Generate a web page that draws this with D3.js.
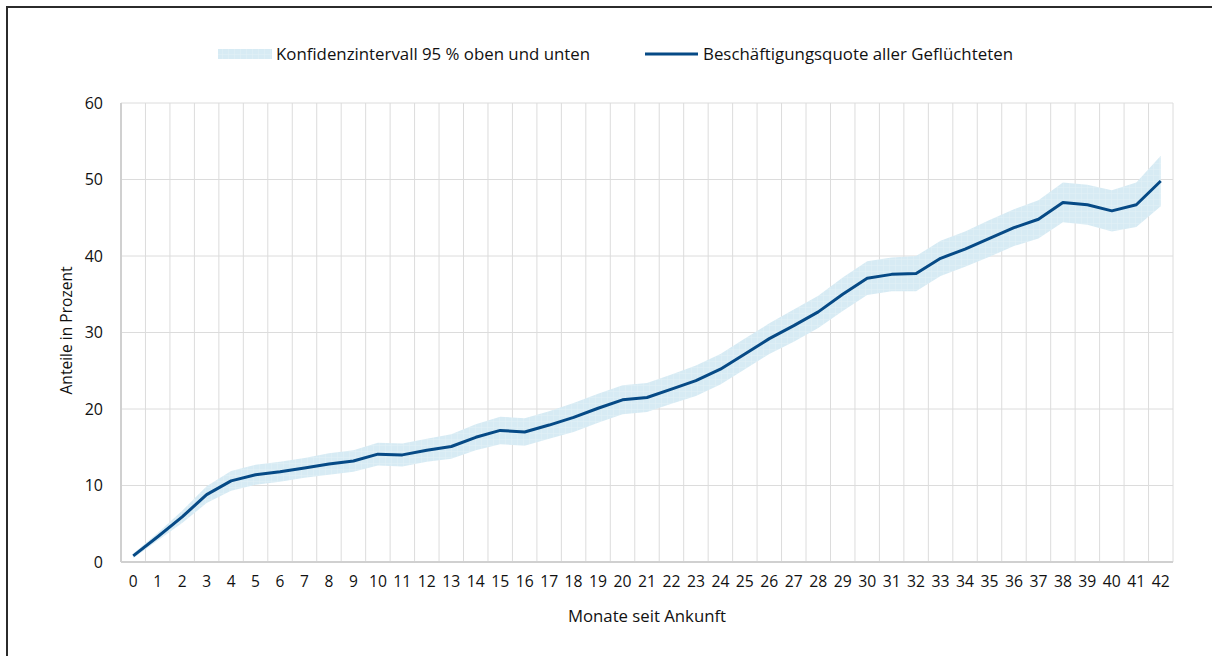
<!DOCTYPE html>
<html>
<head>
<meta charset="utf-8">
<script src="https://cdn.jsdelivr.net/npm/d3@7"></script>
<style>
  body { margin: 0; background: #fff; }
  svg { display: block; font-family: "Open Sans", sans-serif; }
</style>
</head>
<body>
<svg id="chart" width="1212" height="656"></svg>
<script>
// months since arrival
var months = d3.range(0, 43);
// employment rate of all refugees (%)
var quote = [0.8, 3.3, 5.9, 8.8, 10.6, 11.4, 11.8, 12.3, 12.8, 13.2, 14.1, 14.0, 14.6, 15.1, 16.3,
  17.2, 17.0, 17.9, 18.9, 20.1, 21.2, 21.5, 22.6, 23.7, 25.2, 27.2, 29.2, 30.9, 32.7, 35.0,
  37.1, 37.6, 37.7, 39.7, 40.9, 42.3, 43.7, 44.8, 47.0, 46.7, 45.9, 46.7, 49.8];
// 95 % confidence interval
var lower = [0.5, 2.8, 5.1, 7.7, 9.3, 10.1, 10.5, 11.0, 11.4, 11.8, 12.6, 12.5, 13.1, 13.5, 14.6,
  15.4, 15.2, 16.1, 17.0, 18.2, 19.3, 19.6, 20.7, 21.7, 23.2, 25.2, 27.2, 28.8, 30.6, 32.8,
  34.9, 35.4, 35.4, 37.4, 38.6, 39.9, 41.3, 42.3, 44.4, 44.1, 43.2, 43.8, 46.5];
var upper = [1.1, 3.8, 6.7, 9.9, 11.9, 12.7, 13.1, 13.6, 14.2, 14.6, 15.6, 15.5, 16.1, 16.7, 18.0,
  19.0, 18.8, 19.7, 20.8, 22.0, 23.1, 23.4, 24.5, 25.7, 27.2, 29.2, 31.2, 33.0, 34.8, 37.2,
  39.3, 39.8, 40.0, 42.0, 43.2, 44.7, 46.1, 47.3, 49.6, 49.3, 48.6, 49.6, 53.1];
var yTicks = [0, 10, 20, 30, 40, 50, 60];

var svg = d3.select("#chart");
var margin = { top: 103, right: 39, bottom: 94, left: 121 };
var width = 1212 - margin.left - margin.right;
var height = 656 - margin.top - margin.bottom;

// outer frame (top and left only)
svg.append("path")
  .attr("d", "M7,656 V7 H1212")
  .attr("fill", "none")
  .attr("stroke", "#2b2b2b")
  .attr("stroke-width", 2);

var defs = svg.append("defs");
var pat = defs.append("pattern")
  .attr("id", "ci")
  .attr("patternUnits", "userSpaceOnUse")
  .attr("width", 6).attr("height", 6);
pat.append("rect").attr("width", 6).attr("height", 6).attr("fill", "#d7ebf4");
pat.append("path").attr("d", "M0,0 H6 M0,0 V6").attr("stroke", "#e3f1f7").attr("stroke-width", 1);

var g = svg.append("g")
  .attr("transform", "translate(" + margin.left + "," + margin.top + ")");

var x = d3.scaleBand().domain(months).range([0, width]);
var y = d3.scaleLinear().domain([0, 60]).range([height, 0]);

// grid
g.append("g").selectAll("line")
  .data(months.slice(1).concat([43]))
  .join("line")
  .attr("x1", function(d) { return d < 43 ? x(d) : width; })
  .attr("x2", function(d) { return d < 43 ? x(d) : width; })
  .attr("y1", 0).attr("y2", height)
  .attr("stroke", "#dcdcdc").attr("stroke-width", 1);

g.append("g").selectAll("line")
  .data(yTicks.slice(1))
  .join("line")
  .attr("x1", 0).attr("x2", width)
  .attr("y1", function(d) { return y(d); })
  .attr("y2", function(d) { return y(d); })
  .attr("stroke", "#dcdcdc").attr("stroke-width", 1);

var cx = function(d, i) { return x(months[i]) + x.bandwidth() / 2; };

// confidence band
var area = d3.area()
  .x(cx)
  .y0(function(d, i) { return y(lower[i]); })
  .y1(function(d, i) { return y(upper[i]); });

g.append("path")
  .datum(quote)
  .attr("d", area)
  .attr("fill", "url(#ci)");

// axes lines
g.append("line").attr("x1", 0).attr("x2", 0).attr("y1", 0).attr("y2", height)
  .attr("stroke", "#d0d0d0").attr("stroke-width", 2);
g.append("line").attr("x1", 0).attr("x2", width).attr("y1", height).attr("y2", height)
  .attr("stroke", "#d0d0d0").attr("stroke-width", 2);

// main line
var line = d3.line().x(cx).y(function(d) { return y(d); });
g.append("path")
  .datum(quote)
  .attr("d", line)
  .attr("fill", "none")
  .attr("stroke", "#064a86")
  .attr("stroke-width", 3)
  .attr("stroke-linejoin", "round");

// axes
var yAxis = g.append("g")
  .call(d3.axisLeft(y).tickValues(yTicks).tickSize(0).tickPadding(18));
yAxis.select(".domain").remove();
yAxis.selectAll("text").attr("font-size", 16).attr("fill", "#111")
  .attr("font-family", "Open Sans, sans-serif");

var xAxis = g.append("g")
  .attr("transform", "translate(0," + height + ")")
  .call(d3.axisBottom(x).tickSize(0).tickPadding(14));
xAxis.select(".domain").remove();
xAxis.selectAll("text").attr("font-size", 15.5).attr("fill", "#111")
  .attr("font-family", "Open Sans, sans-serif")
  .attr("textLength", function(d) { return d >= 10 ? 18 : null; })
  .attr("lengthAdjust", "spacingAndGlyphs");

// axis titles
svg.append("text")
  .attr("transform", "translate(72," + (margin.top + height / 2 - 2) + ") rotate(-90)")
  .attr("text-anchor", "middle")
  .attr("font-size", 16)
  .attr("fill", "#111")
  .attr("textLength", 128).attr("lengthAdjust", "spacingAndGlyphs")
  .text("Anteile in Prozent");

svg.append("text")
  .attr("x", margin.left + width / 2)
  .attr("y", 622)
  .attr("text-anchor", "middle")
  .attr("font-size", 16)
  .attr("fill", "#111")
  .attr("textLength", 158).attr("lengthAdjust", "spacingAndGlyphs")
  .text("Monate seit Ankunft");

// legend
var leg = svg.append("g");
leg.append("rect")
  .attr("x", 218).attr("y", 49).attr("width", 54).attr("height", 10)
  .attr("fill", "url(#ci)");
leg.append("text")
  .attr("x", 276).attr("y", 60)
  .attr("font-size", 17).attr("fill", "#111")
  .attr("textLength", 314).attr("lengthAdjust", "spacingAndGlyphs")
  .text("Konfidenzintervall 95 % oben und unten");
leg.append("line")
  .attr("x1", 645).attr("x2", 698).attr("y1", 54).attr("y2", 54)
  .attr("stroke", "#064a86").attr("stroke-width", 3);
leg.append("text")
  .attr("x", 703).attr("y", 60)
  .attr("font-size", 17).attr("fill", "#111")
  .attr("textLength", 310).attr("lengthAdjust", "spacingAndGlyphs")
  .text("Beschäftigungsquote aller Geflüchteten");
</script>
</body>
</html>
